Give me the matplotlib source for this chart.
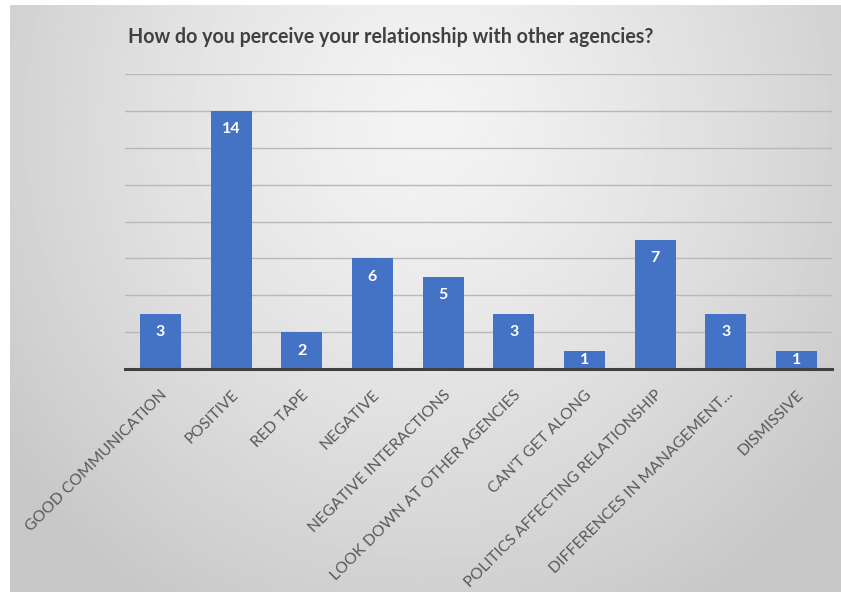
import numpy as np
import matplotlib.pyplot as plt

# Survey answers and how many times each came up
categories = ["GOOD COMMUNICATION", "POSITIVE", "RED TAPE", "NEGATIVE",
              "NEGATIVE INTERACTIONS", "LOOK DOWN AT OTHER AGENCIES",
              "CAN'T GET ALONG", "POLITICS AFFECTING RELATIONSHIP",
              "DIFFERENCES IN MANAGEMENT...", "DISMISSIVE"]
counts = [3, 14, 2, 6, 5, 3, 1, 7, 3, 1]
title = "How do you perceive your relationship with other agencies?"

plt.rcParams['font.family'] = ['Lato', 'DejaVu Sans']

fig = plt.figure(figsize=(8.41, 5.92), dpi=100, facecolor="white")

# Grey radial gradient behind the chart
bg = fig.add_axes([10 / 841, 0, 1 - 10 / 841, 1 - 5 / 592])
h, w = 300, 420
yy, xx = np.mgrid[0:h, 0:w]
d = np.sqrt(((xx - w * 0.5) / (w * 0.62)) ** 2 + ((yy - h * 0.2) / (h * 0.95)) ** 2)
d = np.clip(d, 0, 1)
shade = 0.955 - 0.17 * d ** 1.3
bg.imshow(shade, cmap="gray", vmin=0, vmax=1, aspect="auto", interpolation="bilinear")
bg.axis("off")

ax = fig.add_axes([125 / 841, 1 - 369 / 592, 707 / 841, (369 - 74) / 592])
ax.set_facecolor("none")

x = np.arange(len(categories))
bars = ax.bar(x, counts, width=0.58, color="#4472C4", zorder=3)

# value labels near the top of each bar
for xi, v in zip(x, counts):
    ax.text(xi, v - min(1.0, v / 2), str(v), ha="center", va="center",
            color="white", fontsize=11.5, fontweight="bold", zorder=4)

ax.set_xlim(-0.5, len(categories) - 0.5)
ax.set_ylim(0, 16)
ax.set_yticks(range(0, 17, 2))
ax.yaxis.grid(True, color="#b8b8b8", linewidth=1.0, zorder=0)
ax.tick_params(axis="y", left=False, labelleft=False)
ax.tick_params(axis="x", bottom=False, pad=10)
ax.set_xticks(x)
ax.set_xticklabels(categories, rotation=45, ha="right", rotation_mode="anchor",
                   fontsize=11.3, color="#595959")

for side in ["top", "right", "left"]:
    ax.spines[side].set_visible(False)
ax.spines["bottom"].set_color("#404040")
ax.spines["bottom"].set_linewidth(2.2)
ax.spines["bottom"].set_zorder(5)

fig.text(128 / 841, 1 - 37 / 592, title, fontsize=14.1, fontweight="bold",
         color="#404040", va="center", ha="left")

fig.savefig("out.png", dpi=100)
